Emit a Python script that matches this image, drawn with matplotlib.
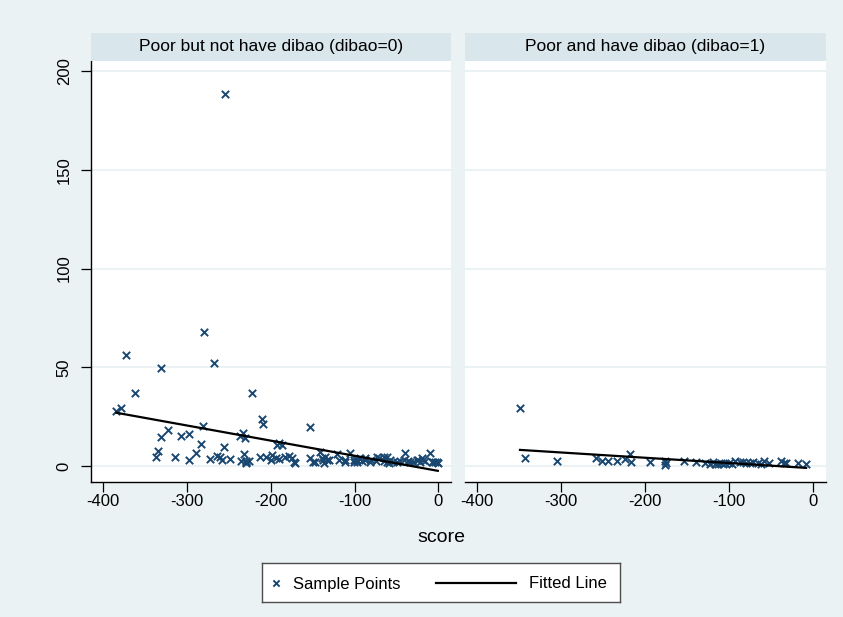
import matplotlib
matplotlib.use("Agg")
import matplotlib.pyplot as plt
import numpy as np

plt.rcParams['font.family'] = ['Liberation Sans', 'DejaVu Sans']

# ---- data -------------------------------------------------------------
panel_titles = ["Poor but not have dibao (dibao=0)", "Poor and have dibao (dibao=1)"]

score_d0 = [-384, -378, -373, -362, -337, -335, -331, -331, -322.5, -314,
            -306.7, -297, -297, -289, -283.7, -280.5, -280, -272.6, -268, -264.6,
            -261, -258, -256, -254, -249, -237, -236, -233, -232, -231,
            -230, -230, -229, -226, -222.6, -213, -210, -209, -206, -200,
            -198, -194, -193, -190, -190, -186, -182.5, -178.3, -174.6, -172.6,
            -170.6, -152.7, -152.7, -149, -146.8, -141, -139, -137.6, -136.9, -134.9,
            -133, -130.9, -121, -119, -111, -111, -105, -101, -101, -97,
            -97, -93, -91, -87, -87, -81.3, -81, -75, -73.3, -71,
            -65.4, -65, -61.4, -61, -59.5, -57.5, -53.6, -49.5, -45.6, -41.6,
            -39.6, -35.7, -33.7, -29.8, -25.8, -23.8, -21.8, -19.8, -17.9, -15.8,
            -9.9, -7.9, -5.9, -3.9, -1.9, 0]
value_d0 = [28, 29.2, 56.2, 36.8, 4.7, 7.6, 49.5, 14.8, 18.2, 4.4,
            15.3, 16, 2.9, 6.4, 11.1, 20.3, 68, 3.5, 52, 5.2,
            4.4, 2.9, 9.5, 188.4, 3.5, 15.4, 2.7, 16.9, 6.1, 14.3,
            2.5, 2.0, 1.4, 2.7, 37.1, 4.4, 23.8, 21.3, 4.4, 3.0,
            5.6, 3.9, 10.6, 11.8, 3.5, 10.6, 4.7, 5.1, 3.9, 2.2,
            1.4, 19.6, 3.9, 2.2, 2.2, 7.2, 3.9, 3.0, 1.4, 4.7,
            3.0, 3.0, 6.1, 3.0, 2.2, 3.0, 6.4, 3.0, 2.2, 2.2,
            3.0, 3.9, 2.7, 3.0, 3.9, 2.2, 3.0, 2.7, 4.4, 3.9,
            4.7, 2.7, 2.2, 4.7, 1.4, 3.0, 2.2, 2.2, 2.7, 3.0,
            6.7, 2.7, 2.2, 2.2, 3.0, 3.0, 2.2, 3.9, 3.0, 2.7,
            6.7, 2.2, 2.2, 2.2, 2.2, 1.4]

score_d1 = [-348.6, -342.7, -305, -257.6, -251.6, -243.8, -233.8, -224, -218, -216,
            -193.5, -176.5, -176.5, -175.3, -154, -138.9, -129, -123, -119.2, -117,
            -113.2, -110, -107.3, -105.3, -100, -96, -93.4, -87.4, -83.6, -80,
            -75.6, -71.7, -65.8, -62, -57.8, -51.9, -38, -35, -32, -18.3, -8.3]
value_d1 = [29.2, 4.2, 2.7, 4.2, 2.7, 2.5, 2.5, 3.4, 6.1, 1.9,
            2.2, 2.5, 0.5, 1.7, 2.7, 1.9, 1.7, 1.0, 2.2, 1.2,
            1.0, 1.6, 1.0, 1.4, 1.5, 1.2, 2.5, 2.2, 1.9, 1.5,
            1.7, 2.2, 1.7, 1.2, 2.7, 1.4, 2.5, 1.5, 1.7, 1.7, 1.0]

# fitted line end points for each group
fit_x_d0 = [-384, -0.7]
fit_y_d0 = [27.0, -2.4]
fit_x_d1 = [-348.6, -8.3]
fit_y_d1 = [8.2, -0.9]

x_ticks = [-400, -300, -200, -100, 0]
y_ticks = [0, 50, 100, 150, 200]

# ---- style -------------------------------------------------------------
BG = "#EAF2F3"
STRIP = "#D9E6EB"
NAVY = "#1A476F"
W, H = 843, 617

fig = plt.figure(figsize=(W / 100, H / 100), dpi=100, facecolor=BG)


def frac_rect(x0, y0, x1, y1):
    return [x0 / W, 1 - y1 / H, (x1 - x0) / W, (y1 - y0) / H]


panels = [
    (91.3, 451.0, score_d0, value_d0, fit_x_d0, fit_y_d0),
    (465.0, 825.7, score_d1, value_d1, fit_x_d1, fit_y_d1),
]
top_px, bot_px = 60.7, 481.7

for i, (x0, x1, xs, ys, fx, fy) in enumerate(panels):
    ax = fig.add_axes(frac_rect(x0, top_px, x1, bot_px))
    ax.set_facecolor("white")
    ax.set_xlim(-414, 15)
    ax.set_ylim(-7.9, 205.2)
    for yt in y_ticks:
        ax.axhline(yt, color=BG, lw=1.5, zorder=0)
    ax.scatter(xs, ys, marker="x", s=28, color=NAVY, linewidths=1.4, zorder=3)
    ax.plot(fx, fy, color="black", lw=1.6, zorder=4)

    for side in ["top", "right"]:
        ax.spines[side].set_visible(False)
    ax.spines["bottom"].set_linewidth(1.0)
    ax.set_xticks(x_ticks)
    ax.set_xticklabels([str(t) for t in x_ticks], fontsize=12)
    ax.tick_params(axis="x", length=7, width=0.9, pad=2)
    if i == 0:
        ax.spines["left"].set_linewidth(1.0)
        ax.set_yticks(y_ticks)
        ax.set_yticklabels([str(t) for t in y_ticks], fontsize=12,
                           rotation=90, va="center")
        ax.tick_params(axis="y", length=7, width=0.9, pad=7)
    else:
        ax.spines["left"].set_visible(False)
        ax.set_yticks([])

    # strip header
    hax = fig.add_axes(frac_rect(x0, 33.3, x1, 60.7))
    hax.set_facecolor(STRIP)
    for s in hax.spines.values():
        s.set_visible(False)
    hax.set_xticks([])
    hax.set_yticks([])
    hax.text(0.5, 0.5, panel_titles[i], ha="center", va="center",
             fontsize=12.5, transform=hax.transAxes)

fig.text(441 / W, 1 - 538 / H, "score", ha="center", va="center", fontsize=14)

# legend box
lx0, ly0, lx1, ly1 = 261.7, 562.7, 620.0, 602.3
lax = fig.add_axes(frac_rect(lx0, ly0, lx1, ly1))
lax.set_facecolor("white")
lax.set_xlim(0, lx1 - lx0)
lax.set_ylim(0, ly1 - ly0)
lax.set_xticks([])
lax.set_yticks([])
for s in lax.spines.values():
    s.set_edgecolor("#4d4d4d")
    s.set_linewidth(1.0)
cy = (ly1 - ly0) / 2
lax.scatter([14.3], [cy], marker="x", s=20, color=NAVY, linewidths=1.4)
lax.text(31.3, cy, "Sample Points", ha="left", va="center_baseline", fontsize=12)
lax.plot([174.3, 254.0], [cy, cy], color="black", lw=1.6)
lax.text(267.3, cy, "Fitted Line", ha="left", va="center_baseline", fontsize=12)

fig.savefig("out.png", dpi=100, facecolor=BG)
